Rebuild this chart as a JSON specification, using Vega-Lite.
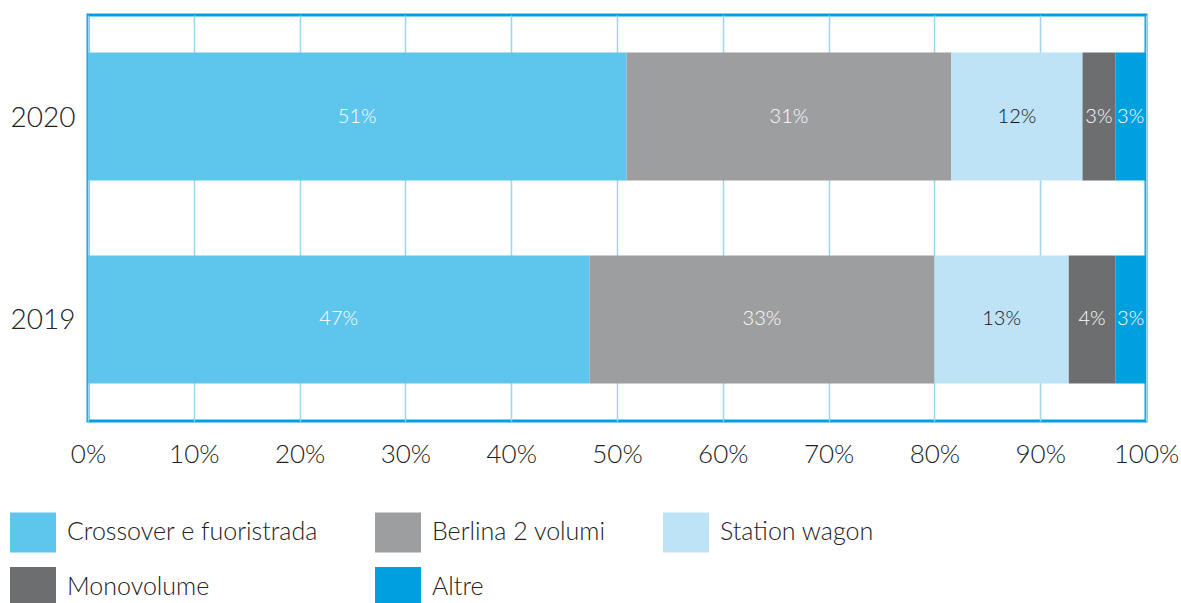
{
  "$schema": "https://vega.github.io/schema/vega-lite/v6.json",
  "autosize": {"type": "none"},
  "padding": {"left": 88, "top": 15, "right": 35, "bottom": 182},
  "width": 1058,
  "height": 406,
  "config": {
    "font": "Lato",
    "view": {"stroke": "#009FDF", "strokeWidth": 3}
  },
  "data": {
    "values": [
      {"Anno": "2020", "Categoria": "Crossover e fuoristrada", "ord": 1, "Quota": 50.9},
      {"Anno": "2020", "Categoria": "Berlina 2 volumi", "ord": 2, "Quota": 30.7},
      {"Anno": "2020", "Categoria": "Station wagon", "ord": 3, "Quota": 12.4},
      {"Anno": "2020", "Categoria": "Monovolume", "ord": 4, "Quota": 3.1},
      {"Anno": "2020", "Categoria": "Altre", "ord": 5, "Quota": 2.9},
      {"Anno": "2019", "Categoria": "Crossover e fuoristrada", "ord": 1, "Quota": 47.4},
      {"Anno": "2019", "Categoria": "Berlina 2 volumi", "ord": 2, "Quota": 32.6},
      {"Anno": "2019", "Categoria": "Station wagon", "ord": 3, "Quota": 12.7},
      {"Anno": "2019", "Categoria": "Monovolume", "ord": 4, "Quota": 4.4},
      {"Anno": "2019", "Categoria": "Altre", "ord": 5, "Quota": 2.9}
    ]
  },
  "transform": [
    {"stack": "Quota", "groupby": ["Anno"], "sort": [{"field": "ord"}], "as": ["q0", "q1"]},
    {"calculate": "(datum.q0 + datum.q1) / 2", "as": "qmid"},
    {"calculate": "format(datum.Quota, '.0f') + '%'", "as": "etichetta"}
  ],
  "encoding": {
    "y": {
      "field": "Anno",
      "type": "nominal",
      "sort": ["2020", "2019"],
      "scale": {"paddingInner": 0.369, "paddingOuter": 0.185},
      "axis": {
        "title": null,
        "domain": false,
        "ticks": false,
        "labelFontSize": 28,
        "labelFontWeight": 300,
        "labelColor": "#222222",
        "labelPadding": 13,
        "labelOffset": 2
      }
    }
  },
  "layer": [
    {
      "mark": {"type": "bar"},
      "encoding": {
        "x": {
          "field": "q0",
          "type": "quantitative",
          "scale": {"domain": [0, 100], "nice": false, "zero": true},
          "axis": {
            "title": null,
            "values": [0, 10, 20, 30, 40, 50, 60, 70, 80, 90, 100],
            "labelExpr": "datum.value + '%'",
            "domain": false,
            "ticks": false,
            "grid": true,
            "gridColor": "#9AD6F2",
            "gridWidth": 1.5,
            "gridOpacity": 1,
            "labelFontSize": 26,
            "labelFontWeight": 300,
            "labelColor": "#222222",
            "labelPadding": 20,
            "labelFlush": false
          }
        },
        "x2": {"field": "q1"},
        "color": {
          "field": "Categoria",
          "type": "nominal",
          "scale": {
            "domain": ["Crossover e fuoristrada", "Berlina 2 volumi", "Station wagon", "Monovolume", "Altre"],
            "range": ["#5EC5ED", "#9D9EA0", "#BEE3F6", "#6D6E70", "#009FDF"]
          },
          "legend": {
            "title": null,
            "orient": "none",
            "legendX": -78,
            "legendY": 494,
            "direction": "horizontal",
            "columns": 3,
            "symbolType": "M-1,-0.87H1V0.87H-1Z",
            "symbolSize": 2116,
            "symbolStrokeWidth": 0,
            "symbolOpacity": 1,
            "labelFontSize": 25,
            "labelFontWeight": 300,
            "labelColor": "#222222",
            "labelOffset": 11,
            "labelLimit": 400,
            "columnPadding": 57,
            "rowPadding": 11
          }
        }
      }
    },
    {
      "mark": {"type": "text", "fontSize": 20, "fontWeight": 300},
      "encoding": {
        "x": {"field": "qmid", "type": "quantitative"},
        "text": {"field": "etichetta", "type": "nominal"},
        "color": {
          "condition": {"test": "datum.Categoria === 'Station wagon'", "value": "#111111"},
          "value": "#FFFFFF"
        }
      }
    }
  ]
}
